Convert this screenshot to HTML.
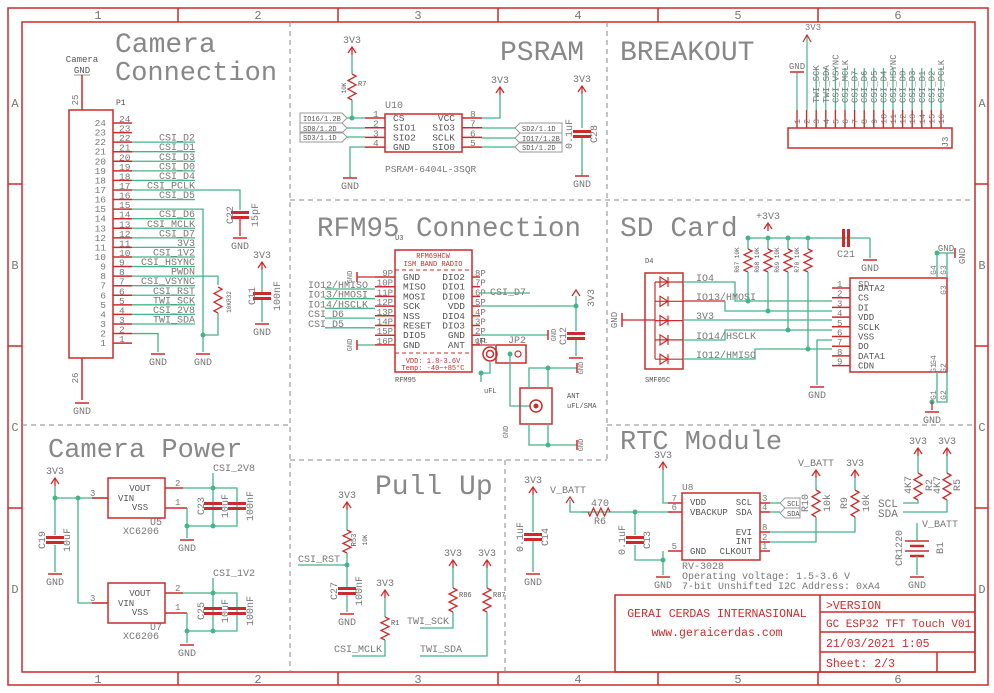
<!DOCTYPE html>
<html><head><meta charset="utf-8"><style>
html,body{margin:0;padding:0;background:#fff;width:994px;height:693px;overflow:hidden}
svg{display:block}
text{font-family:"Liberation Mono",monospace;fill:#777}
</style></head><body>
<svg id="s" width="994" height="693" viewBox="0 0 994 693" xmlns="http://www.w3.org/2000/svg"></svg>
<script>
const S=document.getElementById('s');
const R='#cc2b2b',G='#45b488',GR='#777',NS='http://www.w3.org/2000/svg';
function el(n,a,txt){const e=document.createElementNS(NS,n);for(const k in a)e.setAttribute(k,a[k]);if(txt!==undefined)e.textContent=txt;S.appendChild(e);return e;}
function l(p,c,w,d){el('polyline',{points:p.join(' '),fill:'none',stroke:c||G,'stroke-width':w||1.3,'stroke-dasharray':d||''});}
function t(x,y,s,sz,c,an,rot){const a={x:x,y:y,'font-size':sz||10,'text-anchor':an||'start'};if(c)a.style='fill:'+c;if(rot)a.transform='rotate('+rot+' '+x+' '+y+')';el('text',a,s);}
function dot(x,y){el('circle',{cx:x,cy:y,r:2.5,fill:G});}
function gnd(x,y,lab){l([x-7,y,x+7,y],R,1.5);if(lab!==false)t(x,y+11,'GND',10,GR,'middle');}
function pwr(x,y,lab,an){l([x-4,y+6,x,y,x+4,y+6],R,1.3);l([x,y,x,y+8],R,1.3);t(an=='s'?x-4:x,y-4,lab||'3V3',10,GR,an=='s'?'start':'middle');}
function capV(x,y){el('rect',{x:x-9,y:y-4,width:18,height:3,fill:R});el('rect',{x:x-9,y:y+1,width:18,height:3,fill:R});}
function capH(x,y){el('rect',{x:x-4,y:y-9,width:3,height:18,fill:R});el('rect',{x:x+1,y:y-9,width:3,height:18,fill:R});}
function resV(x,y1,y2){const n=6,h=(y2-y1)/n;let p=[x,y1];for(let i=0;i<n;i++)p.push(x+(i%2?-4:4),y1+h*(i+.5));p.push(x,y2);l(p,R,1.3);}
function resH(x1,x2,y){const n=6,w=(x2-x1)/n;let p=[x1,y];for(let i=0;i<n;i++)p.push(x1+w*(i+.5),y+(i%2?-4:4));p.push(x2,y);l(p,R,1.3);}
function box(x,y,w,h,c){el('rect',{x:x,y:y,width:w,height:h,fill:'none',stroke:c||R,'stroke-width':1.5});}
function flagL(x,y,s){el('polygon',{points:[x,y-5,x+42,y-5,x+47,y,x+42,y+5,x,y+5].join(' '),fill:'none',stroke:'#999','stroke-width':1});t(x+3,y+3,s,7,'#555');}
function flagR(x,y,s){el('polygon',{points:[x,y,x+5,y-5,x+47,y-5,x+47,y+5,x+5,y+5].join(' '),fill:'none',stroke:'#999','stroke-width':1});t(x+7,y+3,s,7,'#555');}
const TC='#888';
// Frame
box(8,8,980,677,R);box(22,22,953,650,R);
for(let i=0;i<6;i++){const x=18+160*i+80;t(x,19,String(i+1),12,GR,'middle');t(x,683,String(i+1),12,GR,'middle');}
for(let i=1;i<6;i++){const x=18+160*i;l([x,8,x,22],R,1.5);l([x,672,x,685],R,1.5);}
['A','B','C','D'].forEach((c,i)=>{const y=22+162*i+81;t(15,y+4,c,12,GR,'middle');t(982,y+4,c,12,GR,'middle');});
for(let i=1;i<4;i++){const y=22+162*i;l([8,y,22,y],R,1.5);l([975,y,988,y],R,1.5);}
const D='5,4',DC='#888';
l([290,22,290,672],DC,1,D);l([290,200,975,200],DC,1,D);l([607,22,607,460],DC,1,D);
l([22,425,290,425],DC,1,D);l([607,425,975,425],DC,1,D);l([290,460,607,460],DC,1,D);l([505,460,505,672],DC,1,D);

t(115,52,'Camera',28,TC);t(115,80,'Connection',27,TC);
t(500,60,'PSRAM',28,TC);t(620,60,'BREAKOUT',28,TC);
t(317,236,'RFM95 Connection',27.5,TC);t(620,236,'SD Card',28,TC);
t(48,457,'Camera Power',27,TC);t(375,494,'Pull Up',28,TC);t(620,449,'RTC Module',27,TC);

// Camera connection
t(82,62,'Camera',9,'#555','middle');t(82,73,'GND',9,'#555','middle');l([74,75,90,75],'#999',1);
l([82,75,82,110],R,1.5);t(78,100,'25',9,GR,'middle',-90);
box(69,110,44,248);t(116,105,'P1',8,'#555');
l([82,358,82,400],R,1.5);t(78,378,'26',9,GR,'middle',-90);gnd(82,403);
const nets={22:'CSI_D2',21:'CSI_D1',20:'CSI_D3',19:'CSI_D0',18:'CSI_D4',17:'CSI_PCLK',16:'CSI_D5',14:'CSI_D6',13:'CSI_MCLK',12:'CSI_D7',11:'3V3',10:'CSI_1V2',9:'CSI_HSYNC',8:'PWDN',7:'CSI_VSYNC',6:'CSI_RST',5:'TWI_SCK',4:'CSI_2V8',3:'TWI_SDA'};
for(let p=24;p>=1;p--){const y=123+(24-p)*9.57;
 l([113,y,132,y],R,1.5);t(106,y+3,String(p),9.5,GR,'end');t(119,y-1,String(p),9.5,GR);
 if(nets[p]){l([132,y,195,y],G,1.3);t(195,y-1.5,nets[p],10,GR,'end');}
 if(p==17){l([195,y,240,y,240,210],G,1.3);}
 if(p==15){l([132,y,203,y,203,335],G,1.3);}
 if(p==8){l([195,y,218,y,218,285],G,1.3);}
 if(p==2){l([132,y,158,y,158,352],G,1.3);}
}
capV(240,215);l([240,219,240,236],R,1.3);gnd(240,238);t(233,215,'C22',10,GR,'middle',-90);t(258,215,'15pF',10,GR,'middle',-90);
resV(218,287,313);l([218,313,218,335,203,335],G,1.3);dot(203,335);t(231,302,'10KR32',6,'#555','middle',-90);
l([203,335,203,352],G,1.3);gnd(203,354);gnd(158,354);
pwr(262,262,'3V3');l([262,270,262,292],G,1.3);capV(262,296);l([262,300,262,322],G,1.3);gnd(262,324);
t(255,296,'C11',10,GR,'middle',-90);t(280,296,'100nF',10,GR,'middle',-90);

// Camera Power
pwr(55,478,'3V3');l([55,486,55,535],G,1.3);capV(55,540);l([55,545,55,572],G,1.3);gnd(55,574);
t(45,540,'C19',10,GR,'middle',-90);t(70,540,'10uF',10,GR,'middle',-90);
l([55,498,108,498],G,1.3);dot(55,498);dot(78,498);l([78,498,78,603,108,603],G,1.3);
function reg(y0,lab,net,cn){
 box(108,y0,57,40);t(140,y0+13,'VOUT',9,'#555','middle');t(118,y0+23,'VIN',9,'#555');t(140,y0+32,'VSS',9,'#555','middle');
 t(90,y0+18,'3',9,GR);t(175,y0+8,'2',9,GR);t(175,y0+27,'1',9,GR);t(150,y0+47,lab,10,GR);t(123,y0+56,'XC6206',10,GR);
 l([92,y0+20,108,y0+20],R,1.5);l([165,y0+10,183,y0+10],R,1.5);l([165,y0+30,187,y0+30],R,1.5);
 l([183,y0+10,237,y0+10,237,y0+48,187,y0+48],G,1.3);l([187,y0+30,187,y0+60],G,1.3);dot(187,y0+48);
 l([213,y0-5,213,y0+48],G,1.3);dot(213,y0+10);dot(213,y0+48);
 capV(213,y0+28);capV(237,y0+28);gnd(187,y0+62);
 t(213,y0-7,net,10,GR);t(204,y0+28,cn,10,GR,'middle',-90);t(228,y0+28,'10uF',10,GR,'middle',-90);t(253,y0+28,'100nF',10,GR,'middle',-90);
}
reg(478,'U5','CSI_2V8','C23');reg(583,'U7','CSI_1V2','C25');

// PSRAM
pwr(352,47,'3V3');l([352,55,352,74],G,1.3);resV(352,74,100);l([352,100,352,118],G,1.3);dot(352,118);
t(346,88,'10K',6,'#555','middle',-90);t(358,86,'R7',7,'#555');
box(385,114,77,38);t(385,108,'U10',10,GR);
[['CS','VCC'],['SIO1','SIO3'],['SIO2','SCLK'],['GND','SIO0']].forEach((a,i)=>{const y=118+i*9.7;
 t(393,y+3,a[0],9.5,'#555');t(455,y+3,a[1],9.5,'#555','end');
 l([365,y,385,y],R,1.5);l([462,y,482,y],R,1.5);t(373,y-1,String(i+1),9.5,GR);t(470,y-1,String(8-i),9.5,GR);});
flagL(300,118,'IO16/1.2B');flagL(300,128,'SD0/1.2D');flagL(300,137,'SD3/1.1D');
l([347,118,365,118],G,1.3);l([347,128,365,128],G,1.3);l([347,137,365,137],G,1.3);
l([365,147,350,147,350,178],G,1.3);gnd(350,178);
l([482,118,500,118,500,95],G,1.3);pwr(500,87,'3V3');
flagR(515,128,'SD2/1.1D');flagR(515,138,'IO17/1.2B');flagR(515,147,'SD1/1.2D');
l([482,128,515,128],G,1.3);l([482,138,515,138],G,1.3);l([482,147,515,147],G,1.3);
t(385,172,'PSRAM-6404L-3SQR',9.5,GR);
pwr(582,86,'3V3');l([582,94,582,128],G,1.3);capV(582,134);l([582,138,582,176],G,1.3);gnd(582,176);
t(572,134,'0.1uF',10,GR,'middle',-90);t(597,134,'C28',10,GR,'middle',-90);

// BREAKOUT
box(788,128,164,20);t(948,142,'J3',9,GR,'middle',-90);
const bl=['','','TWI_SCK','TWI_SDA','CSI_VSYNC','CSI_MCLK','CSI_D7','CSI_D6','CSI_D5','CSI_D4','CSI_HSYNC','CSI_D0','CSI_D3','CSI_D1','CSI_D2','CSI_PCLK'];
for(let i=0;i<16;i++){const x=797+i*9.6;l([x,128,x,110],R,1.4);t(x+3,124,String(i+1),8.5,GR,'start',-90);
 if(i>=2){l([x,110,x,68],G,1.2);t(x+3,103,bl[i],9,GR,'start',-90);}}
l([797,110,797,72],G,1.2);gnd(797,72,false);t(797,69,'GND',9,GR,'middle');
l([807,110,807,35],G,1.2);l([803,42,807,35,811,42],R,1.2);t(813,30,'3V3',9,GR,'middle');

// RFM95
box(395,250,77,122);t(395,240,'U3',7,'#555');
t(433,258,'RFM69HCW',7,R,'middle');t(433,266,'ISM BAND RADIO',7,R,'middle');
l([395,270,472,270],R,1,'4,3');l([395,353,472,353],R,1,'4,3');
t(433,363,'VDD: 1.8-3.6V',7,R,'middle');t(433,370,'Temp: -40~+85°C',7,R,'middle');t(395,382,'RFM95',7,'#555');
const lp=['GND','MISO','MOSI','SCK','NSS','RESET','DIO5','GND'],rp=['DIO2','DIO1','DIO0','VDD','DIO4','DIO3','GND','ANT'];
for(let i=0;i<8;i++){const y=277+i*9.7;
 t(403,y+3,lp[i],9.5,'#555');t(465,y+3,rp[i],9.5,'#555','end');
 l([375,y,395,y],R,1.5);l([472,y,480,y],R,1.5);t(393,y-1,(9+i)+'P',9,GR,'end');t(475,y-1,(8-i)+'P',9,GR);}
l([357,277,375,277],R,1.3);l([357,272,357,282],R,1.5);t(352,277,'GND',7,GR,'middle',-90);
l([357,345,375,345],G,1.3);l([357,340,357,350],R,1.5);t(352,345,'GND',7,GR,'middle',-90);
['IO12/HMISO','IO13/HMOSI','IO14/HSCLK','CSI_D6','CSI_D5'].forEach((s,i)=>{const y=287+i*9.7;t(308,y+1,s,10,GR);l([325,y+2,375,y+2],G,1.3);});
l([480,293,530,293],G,1.3);t(490,295,'CSI_D7',10,GR);
l([480,306,576,306],G,1.3);dot(576,306);l([576,296,576,331],G,1.3);l([572,296,576,290,580,296],R,1.3);t(594,298,'3V3',10,GR,'middle',-90);
capV(576,336);l([576,340,576,356],G,1.3);l([569,358,583,358],R,1.5);
l([480,335,548,335],G,1.3);l([548,330,548,340],R,1.5);t(556,335,'GND',7,GR,'middle',-90);t(566,336,'C12',10,GR,'middle',-90);
l([472,345,495,345],R,1.3);
el('circle',{cx:490,cy:354,r:7,fill:'none',stroke:R,'stroke-width':1.5});el('circle',{cx:490,cy:354,r:3.5,fill:'none',stroke:R,'stroke-width':1.5});
box(496,345,30,18);el('circle',{cx:518,cy:354,r:3,fill:'none',stroke:R,'stroke-width':1.2});t(508,343,'JP2',10,GR);t(475,343,'uFL',7,'#555');
l([490,361,490,373,481,373,481,382],G,1.3);dot(481,373);t(484,393,'uFL',7,'#555');
dot(510,354);l([510,354,510,406,530,406],G,1.3);
box(520,388,32,36);el('circle',{cx:536,cy:406,r:6,fill:'none',stroke:R,'stroke-width':1.5});el('circle',{cx:536,cy:406,r:2.5,fill:R});
l([529,388,529,368,577,368],G,1.3);dot(548,368);l([548,368,548,388],G,1.3);l([577,363,577,373],R,1.5);
l([529,424,529,445,577,445],G,1.3);dot(548,445);l([548,445,548,424],G,1.3);l([577,440,577,450],R,1.5);
t(583,368,'GND',7,GR,'middle',-90);t(583,445,'GND',7,GR,'middle',-90);t(508,432,'GND',7,GR,'middle',-90);
t(567,398,'ANT',7,'#555');t(567,408,'uFL/SMA',7,'#555');

// SD card
pwr(768,223,'+3V3');l([748,238,870,238],G,1.3);
[748,768,788,808].forEach((x,i)=>{dot(x,238);l([x,238,x,249],G,1.3);resV(x,249,272);t(x-9,260,['R67','R68','R69','R70'][i]+' 10K',6,'#555','middle',-90);});
capH(846,238);l([870,238,870,258],G,1.3);gnd(870,260);t(846,257,'C21',10,GR,'middle');
box(645,273,38,96);t(645,263,'D4',7,'#555');t(645,382,'SMF05C',7,'#555');
l([655,282,655,359],R,1.2);
for(let i=0;i<5;i++){const y=282+i*19.3;l([655,y,683,y],R,1.2);el('polygon',{points:[660,y-5,660,y+5,668,y].join(' '),fill:'none',stroke:R,'stroke-width':1.2});l([668,y-5,668,y+5],R,1.2);}
l([622,320,655,320],R,1.3);l([622,313,622,327],R,1.5);t(617,320,'GND',9,GR,'middle',-90);
box(850,278,97,94);t(858,287,'SD',9.5,GR);
const sdp=['DATA2','CS','DI','VDD','SCLK','VSS','DO','DATA1','CDN'];
for(let i=0;i<9;i++){const y=288+i*9.7;l([832,y,850,y],R,1.5);t(837,y-1,String(i+1),9,GR);t(858,y+3,sdp[i],9,'#555');}
l([683,282,735,282,735,301,832,301],G,1.3);t(696,281,'IO4',10,GR);
l([683,301,725,301],R,1.2);l([725,301,725,311,832,311],G,1.3);t(696,300,'IO13/HMOSI',10,GR);
l([683,320,832,320],G,1.3);t(696,319,'3V3',10,GR);
l([683,340,725,340,725,330,832,330],G,1.3);t(696,339,'IO14/HSCLK',10,GR);
l([683,359,755,359,755,349,832,349],G,1.3);t(696,358,'IO12/HMISO',10,GR);
l([748,272,748,301],G,1.3);dot(748,301);l([768,272,768,311],G,1.3);dot(768,311);
l([788,272,788,330],G,1.3);dot(788,330);l([808,272,808,349],G,1.3);dot(808,349);
l([832,340,817,340,817,385],G,1.3);gnd(817,387);
t(936,270,'G4',8,GR,'middle',-90);t(946,270,'G3',8,GR,'middle',-90);t(936,360,'G4',8,GR,'middle',-90);t(946,290,'G3',8,GR,'middle',-90);
t(936,368,'G1',8,GR,'middle',-90);t(946,368,'G2',8,GR,'middle',-90);
l([937,278,937,253,955,253],G,1.3);l([947,278,947,253],G,1.3);dot(937,253);l([955,248,955,258],R,1.5);t(946,251,'GND',9,GR,'middle');t(965,256,'GND',9,GR,'middle',-90);
l([937,372,937,402,947,402,947,372],G,1.3);dot(932,402);l([932,402,932,410],R,1.3);gnd(932,412);
t(936,395,'G1',8,GR,'middle',-90);t(946,395,'G2',8,GR,'middle',-90);

// RTC
box(682,493,78,67);t(682,490,'U8',9.5,GR);
t(690,505,'VDD',9,'#555');t(690,515,'VBACKUP',9,'#555');t(752,505,'SCL',9,'#555','end');t(752,515,'SDA',9,'#555','end');
t(752,535,'EVI',9,'#555','end');t(752,544,'INT',9,'#555','end');t(690,554,'GND',9,'#555');t(752,554,'CLKOUT',9,'#555','end');
l([668,503,682,503],R,1.5);l([668,512,682,512],R,1.5);l([668,551,682,551],R,1.5);
t(677,501,'7',9,GR,'end');t(677,510,'6',9,GR,'end');t(677,549,'5',9,GR,'end');
[[503,'3'],[512,'4'],[532,'8'],[542,'2'],[551,'1']].forEach(a=>{l([760,a[0],770,a[0]],R,1.5);t(762,a[0]-2,a[1],9,GR);});
pwr(663,462,'3V3');l([663,470,663,503,668,503],G,1.3);
l([582,512,668,512],G,1.3);resH(588,610,512);t(600,506,'470',10,GR,'middle');t(600,524,'R6',10,GR,'middle');
l([570,500,570,512,588,512],G,1.3);l([566,503,570,497,574,503],R,1.2);t(550,493,'V_BATT',10,GR);
dot(635,512);l([635,512,635,535],G,1.3);capV(635,540);l([635,545,635,560,663,560,663,551],G,1.3);dot(663,560);l([663,560,663,575],G,1.3);gnd(663,577);
t(625,540,'0.1uF',10,GR,'middle',-90);t(650,540,'C13',10,GR,'middle',-90);
pwr(533,487,'3V3');l([533,495,533,532],G,1.3);capV(533,537);l([533,541,533,572],G,1.3);gnd(533,574);
t(523,537,'0.1uF',10,GR,'middle',-90);t(548,537,'C14',10,GR,'middle',-90);
l([770,503,780,503],G,1.3);l([770,512,780,512],G,1.3);
el('polygon',{points:'780,503 785,498 800,498 800,508 785,508',fill:'none',stroke:'#999'});t(787,506,'SCL',7,'#555');
el('polygon',{points:'780,513 785,508 800,508 800,518 785,518',fill:'none',stroke:'#999'});t(787,516,'SDA',7,'#555');
pwr(816,470,'V_BATT');l([816,478,816,490],G,1.3);resV(816,490,517);l([816,517,816,542,770,542],G,1.3);
t(808,503,'R10',10,GR,'middle',-90);t(830,503,'10k',10,GR,'middle',-90);
pwr(855,470,'3V3');l([855,478,855,490],G,1.3);resV(855,490,517);l([855,517,855,532,770,532],G,1.3);
t(847,503,'R9',10,GR,'middle',-90);t(869,503,'10k',10,GR,'middle',-90);
t(682,569,'RV-3028',10,GR);t(682,579,'Operating voltage: 1.5-3.6 V',10,GR);t(682,589,'7-bit Unshifted I2C Address: 0xA4',10,GR);
pwr(918,448,'3V3');l([918,456,918,473],G,1.3);resV(918,473,500);l([918,500,918,503,903,503],G,1.3);
pwr(947,448,'3V3');l([947,456,947,473],G,1.3);resV(947,473,500);l([947,500,947,512,903,512],G,1.3);
t(911,485,'4K7',10,GR,'middle',-90);t(932,485,'R2',10,GR,'middle',-90);t(940,485,'4K7',10,GR,'middle',-90);t(960,485,'R5',10,GR,'middle',-90);
t(878,507,'SCL',11,GR);t(878,517,'SDA',11,GR);
t(922,527,'V_BATT',10,GR);l([917,523,917,541],G,1.3);
l([905,541,929,541],R,1.5);l([910,546,924,546],R,2.5);l([905,551,929,551],R,1.5);l([910,556,924,556],R,2.5);
l([917,556,917,575],G,1.3);gnd(917,577);t(902,548,'CR1220',10,GR,'middle',-90);t(943,548,'B1',10,GR,'middle',-90);

// Pull Up
pwr(347,502,'3V3');l([347,510,347,530],G,1.3);resV(347,530,553);l([347,553,347,565],G,1.3);dot(347,565);
t(356,540,'R53',7,'#555','middle',-90);t(367,540,'10K',6,'#555','middle',-90);
l([298,565,347,565],G,1.3);t(298,562,'CSI_RST',10,GR);
l([347,565,347,587],G,1.3);capV(347,591);l([347,595,347,612],G,1.3);gnd(347,614);
t(337,591,'C27',10,GR,'middle',-90);t(362,591,'100nF',10,GR,'middle',-90);
pwr(385,590,'3V3');l([385,598,385,617],G,1.3);resV(385,617,640);l([385,640,385,656,352,656],G,1.3);t(391,625,'R1',7,'#555');t(334,652,'CSI_MCLK',10,GR);
pwr(453,560,'3V3');l([453,568,453,588],G,1.3);resV(453,588,612);l([453,612,453,628,420,628],G,1.3);t(459,597,'R86',7,'#555');t(407,624,'TWI_SCK',10,GR);
pwr(487,560,'3V3');l([487,568,487,588],G,1.3);resV(487,588,612);l([487,612,487,656,420,656],G,1.3);t(493,597,'R87',7,'#555');t(420,652,'TWI_SDA',10,GR);

// Title block
box(615,595,360,77);l([820,595,820,672],R,1.5);l([820,612,975,612],R,1.5);l([820,632,975,632],R,1.5);l([820,652,975,652],R,1.5);l([937,652,937,672],R,1.5);
t(717,617,'GERAI CERDAS INTERNASIONAL',11.5,R,'middle');t(717,636,'www.geraicerdas.com',11.5,R,'middle');
t(826,609,'>VERSION',11.5,R);t(826,627,'GC ESP32 TFT Touch V01',11,R);t(826,647,'21/03/2021 1:05',11.5,R);t(826,667,'Sheet: 2/3',11.5,R);
</script>
</body></html>
